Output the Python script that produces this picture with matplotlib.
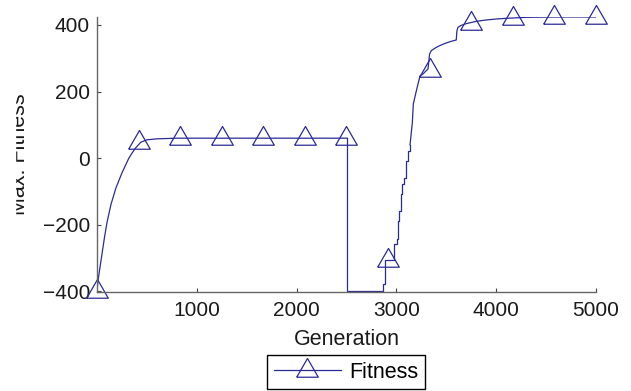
import matplotlib
matplotlib.use("Agg")
import matplotlib.pyplot as plt
from matplotlib.lines import Line2D
from matplotlib.patches import Rectangle

plt.rcParams['font.family'] = ['Liberation Sans', 'DejaVu Sans']

# fitness curve (generation, max fitness)
# first part: fast rise and plateau
rise_gen = [1, 10, 25, 50, 75, 100, 140, 190, 250, 320, 380, 440, 500, 600, 700, 800, 2505]
rise_val = [-400, -370, -340, -290, -240, -195, -140, -90, -45, 0, 28, 48, 55, 58, 59, 60, 60]
# middle part: drop and staircase climb (drawn as steps)
step_gen = [2505, 2506, 2863, 2890, 2980, 3003, 3020, 3030, 3043, 3055, 3073, 3100, 3117, 3137]
step_val = [60, -400, -379, -305, -258, -243, -189, -158, -108, -78, -59, -8, 22, 40]
# last part: climb to saturation
tail_gen = [3137, 3160, 3170, 3193, 3217, 3237, 3267, 3317, 3333, 3350, 3390, 3433, 3500,
            3550, 3600, 3607, 3617, 3650, 3700, 3800, 3900, 4000, 4100, 4300, 4600, 5000]
tail_val = [40, 107, 163, 193, 223, 247, 253, 268, 313, 323, 331, 338, 346,
            351, 355, 383, 393, 399, 404, 411, 415, 418, 420, 423, 424, 424]

# marker positions
mark_gen = [1, 418, 834, 1251, 1667, 2084, 2500, 2917, 3334, 3750, 4167, 4584, 5000]
mark_val = [-400, 50, 60, 60, 60, 60, 60, -305, 265, 407, 421, 424, 424]

xticks = [1000, 2000, 3000, 4000, 5000]
yticks = [-400, -200, 0, 200, 400]

col = '#2b2b96'
tri = [(-0.9, -0.56), (0.0, 1.0), (0.9, -0.56), (-0.9, -0.56)]
ms = 17.3

fig = plt.figure(figsize=(6.31, 3.91), dpi=100)
ax = fig.add_axes([97/631, 1-292/391, 499/631, 275/391])

ax.plot(rise_gen, rise_val, color=col, lw=0.9)
ax.plot(step_gen, step_val, color=col, lw=0.9, drawstyle='steps-post')
ax.plot(tail_gen, tail_val, color=col, lw=0.9)
ax.plot(mark_gen, mark_val, ls='none', marker=tri, ms=ms, mfc='none',
        mec=col, mew=0.9, clip_on=False)

ax.set_xlim(1, 5000)
ax.set_ylim(-402, 424)
ax.set_xticks(xticks)
ax.set_yticks(yticks)

for s in ['top', 'right']:
    ax.spines[s].set_visible(False)
for s in ['left', 'bottom']:
    ax.spines[s].set_color('#666666')
    ax.spines[s].set_linewidth(1.0)
ax.tick_params(direction='in', length=3, width=0.8, color='#444444',
               labelsize=15, labelcolor='#1a1a1a')
ax.tick_params(axis='x', pad=6.5)
ax.tick_params(axis='y', pad=5)

ax.set_xlabel('Generation', fontsize=15.5, color='#1a1a1a')
ax.xaxis.set_label_coords(0.5, -0.135)
ax.set_ylabel('Max. Fitness', fontsize=15.5, color='#1a1a1a')
ax.yaxis.set_label_coords(-0.134, 0.5)

h = Line2D([], [], color=col, lw=0.9, marker=tri, ms=ms, mfc='none', mec=col, mew=0.9)
leg = fig.legend([h], ['Fitness'], loc='center', bbox_to_anchor=(346/631, 1-372/391),
                 fontsize=15.5, fancybox=False, framealpha=1, edgecolor='black',
                 handlelength=3.1, handletextpad=0.4, borderpad=0.3, numpoints=1)
leg.get_frame().set_linewidth(1.0)

# the left strip of the figure is blank in the original (label clipped)
fig.patches.append(Rectangle((0, 0), 15/631, 1, transform=fig.transFigure,
                             color='white', zorder=10))

fig.savefig('out.png', dpi=100)
